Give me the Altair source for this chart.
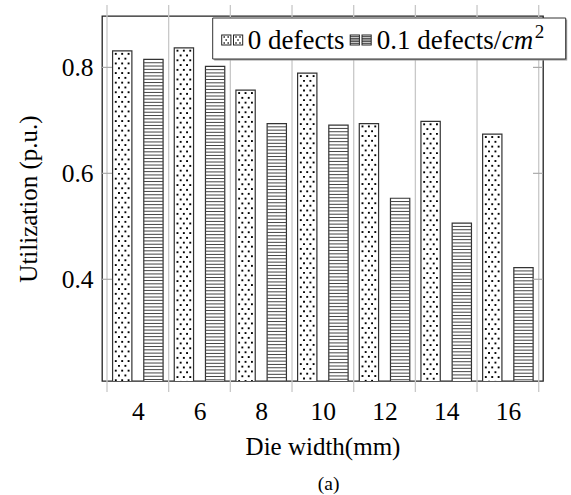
import altair as alt
import pandas as pd

# ---------------- data ----------------
die_width = [4, 6, 8, 10, 12, 14, 16]
util_0_defects = [0.831, 0.837, 0.757, 0.789, 0.694, 0.698, 0.674]
util_01_defects = [0.815, 0.802, 0.694, 0.691, 0.553, 0.506, 0.422]
series_names = ["0 defects", "0.1 defects/cm2"]
y_tick_values = [0.4, 0.6, 0.8]

# ---------------- geometry / style ----------------
FONT = "Liberation Serif"
W, H = 441, 365
X_DOM = [2.838, 17.139]
Y_DOM = [0.208, 0.897]
PXX = W / (X_DOM[1] - X_DOM[0])   # px per x unit
PXY = H / (Y_DOM[1] - Y_DOM[0])   # px per y unit
OFF = 15.6 / PXX                   # bar centre offset
HW = 9.65 / PXX                    # half bar width
LSTEP = 3.3 / PXY                  # hatch line pitch
DSTEP = 4.8 / PXY                  # dot row pitch
DOT_A = [3.2 / PXX, 9.6 / PXX, 16.0 / PXX]
DOT_B = [6.4 / PXX, 12.8 / PXX]

df = pd.DataFrame({
    "w": die_width * 2,
    "k": [0] * len(die_width) + [1] * len(die_width),
    "v": util_0_defects + util_01_defects,
})
bounds = pd.DataFrame({"b": [w - 1 for w in die_width] + [die_width[-1] + 1]})
yt = pd.DataFrame({"t": y_tick_values})

xs = alt.Scale(domain=X_DOM, nice=False, zero=False)
ys = alt.Scale(domain=Y_DOM, nice=False, zero=False)

x_axis = alt.Axis(values=die_width, format="d", ticks=False, domain=False, grid=False,
                  labelFont=FONT, labelFontSize=25.5, labelColor="black", labelPadding=18,
                  title="Die width(mm)", titleFont=FONT, titleFontSize=25,
                  titleFontWeight="normal", titleColor="black", titlePadding=10)
y_axis = alt.Axis(values=y_tick_values, format=".1f", ticks=False, domain=False, grid=False,
                  labelFont=FONT, labelFontSize=25.5, labelColor="black", labelPadding=9,
                  title="Utilization (p.u.)", titleFont=FONT, titleFontSize=25,
                  titleFontWeight="normal", titleColor="black", titlePadding=20)

base = alt.Chart(df).transform_calculate(
    xc=f"datum.w + (datum.k * 2 - 1) * {OFF}"
).transform_calculate(
    x1=f"datum.xc - {HW}", x2=f"datum.xc + {HW}"
)

grid = alt.Chart(bounds).mark_rule(stroke="#c8c8c8", strokeWidth=1.3, clip=False).encode(
    x=alt.X("b:Q", scale=xs, axis=x_axis),
    y=alt.value(-11), y2=alt.value(H + 11),
)

bars = base.mark_rect(fill="white", stroke="#333", strokeWidth=1.2, clip=True).encode(
    x=alt.X("x1:Q", scale=xs, axis=x_axis),
    x2="x2:Q",
    y=alt.Y("v:Q", scale=ys, axis=y_axis),
    y2=alt.datum(Y_DOM[0] - 0.01),
)

hatch = base.transform_filter("datum.k == 1").transform_calculate(
    lv=f"sequence(datum.v - {LSTEP}, {Y_DOM[0] - 0.01}, -{LSTEP})"
).transform_flatten(["lv"]).mark_rule(stroke="#444", strokeWidth=1, clip=True).encode(
    x=alt.X("x1:Q", scale=xs, axis=x_axis), x2="x2:Q",
    y=alt.Y("lv:Q", scale=ys, axis=y_axis),
)

dots = base.transform_filter("datum.k == 0").transform_calculate(
    r=f"sequence(0, ceil((datum.v - {Y_DOM[0]}) / {DSTEP}))"
).transform_flatten(["r"]).transform_calculate(
    py=f"datum.v - (datum.r + 0.6) * {DSTEP}",
    c=f"datum.r % 2 == 0 ? {DOT_A} : {DOT_B}",
).transform_flatten(["c"]).transform_calculate(
    px="datum.x1 + datum.c"
).mark_square(size=3.6, color="black", opacity=1, filled=True, clip=True).encode(
    x=alt.X("px:Q", scale=xs, axis=x_axis),
    y=alt.Y("py:Q", scale=ys, axis=y_axis),
)

ticks_l = alt.Chart(yt).mark_rule(stroke="#aaa", strokeWidth=1.2).encode(
    y=alt.Y("t:Q", scale=ys, axis=y_axis), x=alt.value(0), x2=alt.value(10))
ticks_r = alt.Chart(yt).mark_rule(stroke="#aaa", strokeWidth=1.2).encode(
    y=alt.Y("t:Q", scale=ys, axis=y_axis), x=alt.value(W - 10), x2=alt.value(W))


# ---------------- legend (manual, pixel placed) ----------------
def ring(x0, y0, x1, y1, t):
    return (f"M{x0},{y0}H{x1}V{y1}H{x0}Z"
            f"M{x0 + t},{y0 + t}V{y1 - t}H{x1 - t}V{y0 + t}Z")


def sq(x, y, s):
    return f"M{x - s / 2},{y - s / 2}h{s}v{s}h{-s}Z"


def hb(x0, x1, y, t):
    return f"M{x0},{y - t / 2}H{x1}v{t}H{x0}Z"


SC = 12.0  # custom symbol scale: sqrt(576)/2


def scale_path(p):
    out, num = [], ""
    for ch in p + " ":
        if ch.isdigit() or ch in ".-" and not (ch == "-" and num):
            num += ch
        else:
            if num:
                out.append(f"{float(num) / SC:.4f}")
                num = ""
            out.append(ch)
    return "".join(out).strip()


rects = [(-11, -5.5, -0.8, 5.5), (0.8, -5.5, 11, 5.5)]
p_dots, p_lines = "", ""
for (x0, y0, x1, y1) in rects:
    p_dots += ring(x0, y0, x1, y1, 1)
    p_lines += ring(x0, y0, x1, y1, 1)
    for yy, xo in [(-3, [3, 7]), (0, [5]), (3, [3, 7])]:
        for o in xo:
            p_dots += sq(x0 + o, yy, 1.5)
    for yy in [-3.4, -1.7, 0, 1.7, 3.4]:
        p_lines += hb(x0 + 1, x1 - 1, yy, 0.9)
p_dots = scale_path(p_dots)
p_lines = scale_path(p_lines)

one = pd.DataFrame({"a": [0]})
LX0, LY0 = 102.3, 16
leg_shadow = alt.Chart(one).mark_rect(fill="#999").encode(
    x=alt.value(213 - LX0 + 1.5), x2=alt.value(566 - LX0 + 1.5),
    y=alt.value(18 - LY0 + 1.5), y2=alt.value(59 - LY0 + 1.5))
leg_box = alt.Chart(one).mark_rect(fill="white", stroke="#333", strokeWidth=1).encode(
    x=alt.value(213 - LX0), x2=alt.value(566 - LX0),
    y=alt.value(18 - LY0), y2=alt.value(59 - LY0))
sym1 = alt.Chart(one).mark_point(shape=p_dots, size=576, filled=True, color="#222",
                                 opacity=1, strokeOpacity=0).encode(
    x=alt.value(232.5 - LX0), y=alt.value(40 - LY0))
sym2 = alt.Chart(one).mark_point(shape=p_lines, size=576, filled=True, color="#222",
                                 opacity=1, strokeOpacity=0).encode(
    x=alt.value(361 - LX0), y=alt.value(40 - LY0))
LFS = 27
txt1 = alt.Chart(one).mark_text(text="0 defects", font=FONT, fontSize=LFS, align="left",
                                baseline="alphabetic", color="black").encode(
    x=alt.value(248 - LX0), y=alt.value(49 - LY0))
txt2 = alt.Chart(one).mark_text(text="0.1 defects/", font=FONT, fontSize=LFS, align="left",
                                baseline="alphabetic", color="black").encode(
    x=alt.value(377 - LX0), y=alt.value(49 - LY0))
txt3 = alt.Chart(one).mark_text(text="cm", font=FONT, fontSize=LFS, fontStyle="italic",
                                align="left", baseline="alphabetic", color="black").encode(
    x=alt.value(377 - LX0 + 125), y=alt.value(49 - LY0))
txt4 = alt.Chart(one).mark_text(text="2", font=FONT, fontSize=19, align="left",
                                baseline="alphabetic", color="black").encode(
    x=alt.value(377 - LX0 + 158), y=alt.value(38 - LY0))
caption = alt.Chart(one).mark_text(text="(a)", font=FONT, fontSize=19.5, align="center",
                                   baseline="middle", color="black").encode(
    x=alt.value(329 - LX0), y=alt.value(484 - LY0))

chart = alt.layer(
    grid, bars, hatch, dots, ticks_l, ticks_r,
    leg_shadow, leg_box, sym1, sym2, txt1, txt2, txt3, txt4, caption,
).properties(
    width=W, height=H,
    autosize=alt.AutoSizeParams(type="none"),
    padding={"left": 102, "top": 16, "right": 28, "bottom": 114},
    background="white",
).configure_view(stroke="#222", strokeWidth=1.3)

chart.save("out.html", embed_options={"renderer": "svg", "actions": False})
